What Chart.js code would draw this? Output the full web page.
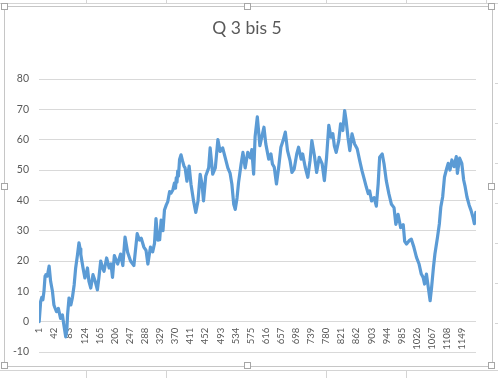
<!DOCTYPE html>
<html lang="de">
<head>
  <meta charset="UTF-8">
  <title>Q 3 bis 5</title>
  <style>
    html, body { margin: 0; padding: 0; background: #fff; }
    #sheet { position: relative; width: 498px; height: 378px; overflow: hidden; }
    .cell { position: absolute; background: #d4d4d4; }
    #frame { position: absolute; left: 4px; top: 6px; width: 487px; height: 359px; border: 1px solid #c6c6c6; background: #fff; }
    #graphic { position: absolute; left: 0; top: 0; }
    .handle { position: absolute; width: 5px; height: 5px; border: 1px solid #a6a6a6; background: #fff; }
  </style>
</head>
<body>
  <div id="sheet">
    <!-- Excel-Raster rund um das Diagramm -->
    <div class="cell" style="left:0;top:3px;width:498px;height:1px"></div>
    <div class="cell" style="left:86px;top:0;width:1px;height:4px"></div>
    <div class="cell" style="left:166px;top:0;width:1px;height:4px"></div>
    <div class="cell" style="left:326px;top:0;width:1px;height:4px"></div>
    <div class="cell" style="left:406px;top:0;width:1px;height:4px"></div>
    <div class="cell" style="left:486px;top:0;width:1px;height:4px"></div>
    <div class="cell" style="left:0;top:370px;width:498px;height:1px"></div>
    <div class="cell" style="left:86px;top:370px;width:1px;height:8px"></div>
    <div class="cell" style="left:166px;top:370px;width:1px;height:8px"></div>
    <div class="cell" style="left:326px;top:370px;width:1px;height:8px"></div>
    <div class="cell" style="left:406px;top:370px;width:1px;height:8px"></div>
    <div class="cell" style="left:495px;top:83px;width:3px;height:1px"></div>
    <div class="cell" style="left:495px;top:123px;width:3px;height:1px"></div>
    <div class="cell" style="left:495px;top:163px;width:3px;height:1px"></div>
    <div class="cell" style="left:495px;top:203px;width:3px;height:1px"></div>
    <div class="cell" style="left:495px;top:243px;width:3px;height:1px"></div>
    <div class="cell" style="left:495px;top:283px;width:3px;height:1px"></div>
    <div class="cell" style="left:495px;top:323px;width:3px;height:1px"></div>

    <div id="frame"></div>
    <canvas id="graphic" width="498" height="378"></canvas>

    <div class="handle" style="left:1px;top:3px"></div>
    <div class="handle" style="left:244px;top:3px"></div>
    <div class="handle" style="left:488px;top:3px"></div>
    <div class="handle" style="left:1px;top:183px"></div>
    <div class="handle" style="left:488px;top:183px"></div>
    <div class="handle" style="left:1px;top:362px"></div>
    <div class="handle" style="left:244px;top:362px"></div>
    <div class="handle" style="left:488px;top:362px"></div>
  </div>

  <script src="https://cdn.jsdelivr.net/npm/chart.js"></script>

  <script>
    // Datenreihe (Index -> Wert)
    const indexes = [
      1, 5, 8, 11, 14, 17, 19, 23, 28, 32, 37, 41, 44, 48, 53, 59, 64, 68, 73, 76,
      78, 82, 87, 91, 96, 100, 105, 109, 112, 114, 120, 125, 129, 132, 136, 141, 147, 153, 159, 163,
      168, 173, 177, 184, 191, 196, 200, 205, 214, 222, 228, 234, 241, 249, 258, 267, 273, 278, 285, 291,
      296, 303, 309, 314, 318, 323, 328, 332, 337, 341, 346, 350, 355, 359, 364, 368, 371, 373, 375, 377,
      379, 382, 386, 390, 394, 397, 402, 408, 413, 420, 426, 432, 438, 443, 447, 453, 461, 465, 472, 479,
      486, 492, 499, 506, 513, 519, 524, 529, 533, 538, 542, 549, 554, 560, 567, 574, 578, 583, 587, 593,
      600, 607, 611, 616, 624, 630, 634, 639, 645, 651, 657, 663, 669, 675, 682, 687, 693, 700, 705, 712,
      716, 723, 730, 736, 741, 748, 754, 761, 769, 775, 781, 787, 793, 798, 802, 807, 814, 819, 825, 830,
      834, 839, 844, 850, 857, 864, 871, 877, 883, 889, 894, 898, 903, 910, 916, 921, 925, 932, 937, 943,
      950, 957, 964, 969, 975, 982, 989, 993, 998, 1005, 1011, 1018, 1025, 1032, 1038, 1043, 1047, 1052, 1057, 1062,
      1066, 1071, 1075, 1082, 1087, 1091, 1096, 1101, 1107, 1111, 1116, 1121, 1127, 1133, 1136, 1142, 1148, 1153, 1157, 1162,
      1168, 1173, 1178, 1182, 1186
    ];
    const values = [
      0, 6.7, 8, 7.2, 10, 15, 15.5, 15, 18.3, 13.3, 10, 5.5, 4.5, 3.3, 4.4, 1.1, 2.2, -1.1, -5, -3,
      2.2, 7.8, 5.5, 7.8, 12.2, 17.7, 22.1, 26, 24, 22.1, 17.7, 14.4, 16, 17.7, 13.3, 11.1, 15.5, 13.3, 10.5, 14.4,
      20, 17.7, 16.6, 21, 17.7, 19, 14.6, 21.8, 19, 22.3, 18.5, 27.9, 22.9, 20, 18.5, 29, 26.9, 27.5, 24.6, 23.5,
      19, 24.6, 23, 25.8, 34, 26.9, 27, 33.5, 30, 36.8, 38.5, 39.6, 42.9, 42.4, 43.5, 45.7, 44, 47.4, 46, 49.6,
      48, 53.5, 55, 53, 51.3, 50.7, 46.3, 51.3, 45.3, 39.8, 36, 39.8, 48.6, 45.3, 39.8, 48, 50.7, 57.3, 48.6, 50.7,
      60, 56.1, 57.3, 54, 50.7, 49, 45.3, 38.7, 37, 40.8, 45.8, 52, 55.8, 50.7, 55.8, 54, 56.7, 48.6, 61, 67.5,
      58, 61.9, 64.1, 58.6, 53.6, 55.3, 52, 50.9, 45.4, 50.9, 57.5, 59.7, 62.5, 56.4, 53, 49.2, 50.3, 55.3, 57.5, 53.6,
      55.3, 50.9, 47.6, 53, 59.7, 54.7, 49.2, 54.2, 52, 46.5, 54.2, 64.7, 60.8, 62, 58, 55.8, 59.7, 65.2, 63, 69.6,
      66.3, 60.8, 56.4, 61.9, 58.6, 57, 53, 49.8, 47.1, 44.3, 42.2, 43.1, 39.8, 40.9, 38.1, 45.4, 54.2, 55.3, 52, 46.5,
      42.2, 38.7, 37.6, 32.1, 35.4, 31, 32, 26.5, 25.6, 26.7, 27.2, 24.5, 21.2, 19, 15.7, 14.6, 12.4, 15.7, 11.3, 6.9,
      11.3, 17.9, 22.3, 27.8, 32.2, 37.8, 41.1, 47.7, 50.5, 52.2, 50, 53.3, 51.1, 54.4, 48.9, 53.9, 52.2, 46.7, 44.5, 41.1,
      38.4, 36.7, 34.5, 32.3, 36
    ];
    const pointCount = 1186;
    const xLabels = [1, 42, 83, 124, 165, 206, 247, 288, 329, 370, 411, 452, 493, 534, 575, 616,
      657, 698, 739, 780, 821, 862, 903, 944, 985, 1026, 1067, 1108, 1149];
    const yTicks = [-10, 0, 10, 20, 30, 40, 50, 60, 70, 80];

    const grau = '#595959';

    const lienzo = document.getElementById('graphic');
    new Chart(lienzo, {
      type: 'line',
      data: {
        datasets: [{
          data: indexes.map((x, i) => ({ x: x, y: values[i] })),
          borderColor: '#5B9BD5',
          borderWidth: 3.2,
          borderJoinStyle: 'round',
          borderCapStyle: 'round',
          pointRadius: 0,
          tension: 0,
          fill: false
        }]
      },
      options: {
        responsive: false,
        animation: false,
        layout: { padding: { left: 0, right: 4, top: 0, bottom: 26 } },
        plugins: {
          legend: { display: false },
          tooltip: { enabled: false },
          title: {
            display: true,
            text: 'Q 3 bis 5',
            color: grau,
            font: { family: 'Lato', size: 17.5, weight: 'normal' },
            padding: { top: 18, bottom: 40 }
          }
        },
        scales: {
          x: {
            type: 'linear',
            position: { y: 0 },
            min: 0.5,
            max: pointCount + 0.5,
            grid: { display: false, drawTicks: false },
            border: { display: false },
            afterBuildTicks: s => { s.ticks = xLabels.map(v => ({ value: v })); },
            afterFit: s => { s.height = 0; },
            ticks: {
              autoSkip: false,
              minRotation: 90,
              maxRotation: 90,
              padding: 6,
              color: grau,
              font: { family: 'Lato', size: 9.5 },
              callback: v => String(v)
            }
          },
          y: {
            min: yTicks[0],
            max: yTicks[yTicks.length - 1],
            afterBuildTicks: s => { s.ticks = yTicks.map(v => ({ value: v })); },
            afterFit: s => { s.width = 39; },
            grid: { color: '#d9d9d9', drawTicks: false },
            border: { display: false },
            ticks: { padding: 10, color: grau, font: { family: 'Lato', size: 10.5 } }
          },
          // leerer Rand rechts, damit der Titel mittig bleibt
          rand: {
            type: 'linear',
            position: 'right',
            grid: { display: false, drawTicks: false },
            border: { display: false },
            ticks: { display: false },
            afterFit: s => { s.width = 18; }
          }
        }
      }
    });
  </script>
</body>
</html>
